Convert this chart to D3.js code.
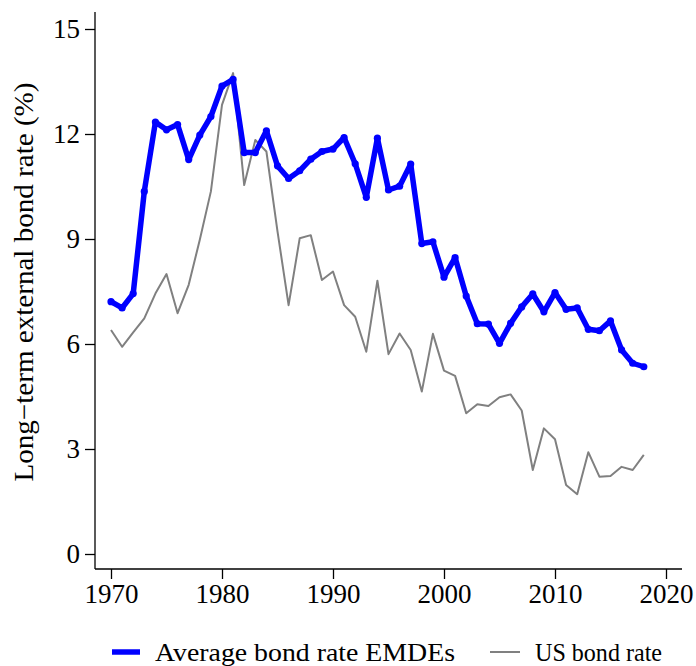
<!DOCTYPE html>
<html>
<head>
<meta charset="utf-8">
<script src="https://cdn.jsdelivr.net/npm/d3@7"></script>
<style>
  body { margin: 0; background: #fff; }
  svg { display: block; font-family: "Liberation Serif", "DejaVu Serif", serif; }
</style>
</head>
<body>
<div id="chart"></div>
<script>
var years = d3.range(1970, 2019);

var emdeRate = [7.21, 7.03, 7.44, 10.36, 12.34, 12.12, 12.27, 11.27, 11.97, 12.5,
                13.37, 13.56, 11.47, 11.47, 12.09, 11.09, 10.73, 10.95, 11.28, 11.5,
                11.57, 11.9, 11.15, 10.19, 11.88, 10.4, 10.51, 11.14, 8.87, 8.92,
                7.91, 8.47, 7.37, 6.58, 6.57, 6.02, 6.59, 7.06, 7.43, 6.92,
                7.47, 6.99, 7.03, 6.42, 6.38, 6.66, 5.83, 5.45, 5.35];

var usRate = [6.4, 5.92, 6.33, 6.73, 7.44, 8.0, 6.88, 7.69, 8.98, 10.36,
              12.83, 13.74, 10.54, 11.83, 11.5, 9.22, 7.11, 9.02, 9.11, 7.83,
              8.07, 7.11, 6.78, 5.78, 7.81, 5.71, 6.3, 5.83, 4.64, 6.29,
              5.24, 5.09, 4.02, 4.28, 4.23, 4.48, 4.56, 4.1, 2.4, 3.59,
              3.28, 1.97, 1.71, 2.91, 2.21, 2.23, 2.49, 2.4, 2.83];

var xTicks = [1970, 1980, 1990, 2000, 2010, 2020];
var yTicks = [0, 3, 6, 9, 12, 15];

var seriesNames = ["Average bond rate EMDEs", "US bond rate"];
var yTitle = "Long\u2212term external bond rate (%)";

var width = 696;
var height = 666;

var svg = d3.select('#chart')
    .append('svg')
    .attr('width', width)
    .attr('height', height);

var x = d3.scaleLinear().domain([1970, 2020]).range([111, 666]);
var y = d3.scaleLinear().domain([0, 15]).range([554, 29]);

var axisLeft = 95;
var axisBottom = 569;

// axis lines (stata style, a bit longer than the data range)
svg.append('line')
    .attr('x1', axisLeft).attr('x2', axisLeft)
    .attr('y1', 12).attr('y2', axisBottom)
    .attr('stroke', '#000').attr('stroke-width', 1.3);
svg.append('line')
    .attr('x1', axisLeft).attr('x2', 682)
    .attr('y1', axisBottom).attr('y2', axisBottom)
    .attr('stroke', '#000').attr('stroke-width', 1.3);

var yAxis = d3.axisLeft(y).tickValues(yTicks).tickSize(10).tickSizeOuter(0).tickPadding(5);
var yAxisGroup = svg.append('g')
    .attr('transform', 'translate(' + axisLeft + ',0)')
    .call(yAxis);

var xAxis = d3.axisBottom(x).tickValues(xTicks).tickFormat(d3.format('d')).tickSize(10).tickSizeOuter(0).tickPadding(5);
var xAxisGroup = svg.append('g')
    .attr('transform', 'translate(0,' + axisBottom + ')')
    .call(xAxis);

[yAxisGroup, xAxisGroup].forEach(function(g) {
    g.select('.domain').remove();
    g.selectAll('line').attr('stroke', '#000').attr('stroke-width', 1.3);
    g.selectAll('text').attr('fill', '#000')
        .style('font-family', '"Liberation Serif", serif')
        .style('font-size', '27px');
});
xAxisGroup.selectAll('text').attr('textLength', 54).attr('lengthAdjust', 'spacingAndGlyphs');

// y title
svg.append('text')
    .attr('transform', 'translate(33,282) rotate(-90)')
    .attr('text-anchor', 'middle')
    .attr('textLength', 399)
    .attr('lengthAdjust', 'spacingAndGlyphs')
    .style('font-size', '27px')
    .attr('fill', '#000')
    .text(yTitle);

var line = d3.line()
    .x(function(d, i) { return x(years[i]); })
    .y(function(d) { return y(d); });

// US bond rate
svg.append('path')
    .datum(usRate)
    .attr('fill', 'none')
    .attr('stroke', '#808080')
    .attr('stroke-width', 2)
    .attr('stroke-linejoin', 'round')
    .attr('d', line);

// EMDE average
svg.append('path')
    .datum(emdeRate)
    .attr('fill', 'none')
    .attr('stroke', '#0000ff')
    .attr('stroke-width', 5.5)
    .attr('stroke-linejoin', 'round')
    .attr('d', line);

svg.selectAll('.dot')
    .data(emdeRate)
    .enter()
    .append('circle')
    .attr('class', 'dot')
    .attr('cx', function(d, i) { return x(years[i]); })
    .attr('cy', function(d) { return y(d); })
    .attr('r', 3.6)
    .attr('fill', '#0000ff');

// legend
var legend = svg.append('g');
legend.append('line')
    .attr('x1', 112).attr('x2', 140)
    .attr('y1', 652).attr('y2', 652)
    .attr('stroke', '#0000ff').attr('stroke-width', 5.5);
legend.append('text')
    .attr('x', 155).attr('y', 661)
    .attr('textLength', 300)
    .attr('lengthAdjust', 'spacingAndGlyphs')
    .style('font-size', '26px')
    .attr('fill', '#000')
    .text(seriesNames[0]);
legend.append('line')
    .attr('x1', 490).attr('x2', 520)
    .attr('y1', 652).attr('y2', 652)
    .attr('stroke', '#808080').attr('stroke-width', 2);
legend.append('text')
    .attr('x', 535).attr('y', 661)
    .attr('textLength', 127)
    .attr('lengthAdjust', 'spacingAndGlyphs')
    .style('font-size', '26px')
    .attr('fill', '#000')
    .text(seriesNames[1]);
</script>
</body>
</html>
